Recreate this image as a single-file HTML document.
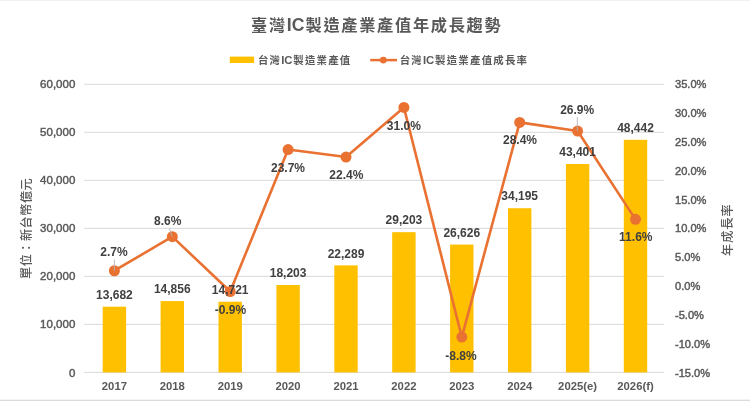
<!DOCTYPE html>
<html lang="zh-Hant">
<head>
<meta charset="utf-8">
<title>臺灣IC製造產業產值年成長趨勢</title>
<style>
html,body{margin:0;padding:0;background:#fff;}
body{width:750px;height:401px;overflow:hidden;}
svg{display:block;filter:blur(0.45px);}
text{font-family:"Liberation Sans","Noto Sans CJK TC",sans-serif;}
.ax{font-size:11.5px;fill:#595959;stroke:#595959;stroke-width:0.45px;}
.ar{font-size:11.1px;}
.xl{font-size:11.3px;fill:#595959;font-weight:bold;}
.dl{font-size:12px;fill:#404040;font-weight:bold;}
.lg{font-size:11.3px;fill:#595959;font-weight:bold;}
.lg .ck{font-size:10.4px;letter-spacing:1.25px;}
.at{font-size:12.1px;letter-spacing:0.55px;fill:#595959;font-weight:500;}
.tt{font-size:17.6px;fill:#595959;font-weight:bold;}
.tt .ck{font-size:16.2px;letter-spacing:1.7px;}
</style>
</head>
<body>
<svg width="750" height="401" viewBox="0 0 750 401">
<rect x="0" y="0" width="750" height="401" fill="#ffffff"/>
<rect x="0" y="0" width="750" height="1" fill="#f0f0f0"/>
<rect x="0" y="399" width="750" height="1" fill="#f4f4f4"/>
<rect x="0" y="400" width="750" height="1" fill="#dcdcdc"/>
<text class="tt" x="251" y="31.4"><tspan class="ck">臺灣</tspan>IC<tspan class="ck" dx="1.2">製造產業產值年成長趨勢</tspan></text>
<rect x="229.8" y="56.6" width="24.3" height="6.4" fill="#FFC000"/>
<text class="lg" x="257.9" y="63.8"><tspan class="ck">台灣</tspan>IC<tspan class="ck" dx="0.8">製造業產值</tspan></text>
<line x1="370.2" y1="60.1" x2="397" y2="60.1" stroke="#E97132" stroke-width="2.5"/>
<circle cx="383.3" cy="60.1" r="3.4" fill="#E97132"/>
<text class="lg" x="399.7" y="63.8"><tspan class="ck">台灣</tspan>IC<tspan class="ck" dx="0.8">製造業產值成長率</tspan></text>
<line x1="84.3" y1="84.30" x2="664.0" y2="84.30" stroke="#d9d9d9" stroke-width="1"/>
<line x1="84.3" y1="132.32" x2="664.0" y2="132.32" stroke="#d9d9d9" stroke-width="1"/>
<line x1="84.3" y1="180.33" x2="664.0" y2="180.33" stroke="#d9d9d9" stroke-width="1"/>
<line x1="84.3" y1="228.35" x2="664.0" y2="228.35" stroke="#d9d9d9" stroke-width="1"/>
<line x1="84.3" y1="276.37" x2="664.0" y2="276.37" stroke="#d9d9d9" stroke-width="1"/>
<line x1="84.3" y1="324.38" x2="664.0" y2="324.38" stroke="#d9d9d9" stroke-width="1"/>
<line x1="84.3" y1="372.40" x2="664.0" y2="372.40" stroke="#d9d9d9" stroke-width="1"/>
<text class="ax" x="75.3" y="376.50" text-anchor="end">0</text>
<text class="ax" x="75.3" y="328.48" text-anchor="end">10,000</text>
<text class="ax" x="75.3" y="280.47" text-anchor="end">20,000</text>
<text class="ax" x="75.3" y="232.45" text-anchor="end">30,000</text>
<text class="ax" x="75.3" y="184.43" text-anchor="end">40,000</text>
<text class="ax" x="75.3" y="136.42" text-anchor="end">50,000</text>
<text class="ax" x="75.3" y="88.40" text-anchor="end">60,000</text>
<text class="ax ar" x="675" y="376.50">-15.0%</text>
<text class="ax ar" x="675" y="347.69">-10.0%</text>
<text class="ax ar" x="675" y="318.88">-5.0%</text>
<text class="ax ar" x="675" y="290.07">0.0%</text>
<text class="ax ar" x="675" y="261.26">5.0%</text>
<text class="ax ar" x="675" y="232.45">10.0%</text>
<text class="ax ar" x="675" y="203.64">15.0%</text>
<text class="ax ar" x="675" y="174.83">20.0%</text>
<text class="ax ar" x="675" y="146.02">25.0%</text>
<text class="ax ar" x="675" y="117.21">30.0%</text>
<text class="ax ar" x="675" y="88.40">35.0%</text>
<text class="at" transform="translate(31.1,228.4) rotate(-90)" text-anchor="middle">單位：新台幣億元</text>
<text class="at" style="letter-spacing:1.05px" transform="translate(731.9,229.6) rotate(-90)" text-anchor="middle">年成長率</text>
<rect x="102.70" y="306.70" width="23.4" height="65.70" fill="#FFC000"/>
<rect x="160.60" y="301.07" width="23.4" height="71.33" fill="#FFC000"/>
<rect x="218.50" y="301.71" width="23.4" height="70.69" fill="#FFC000"/>
<rect x="276.40" y="285.00" width="23.4" height="87.40" fill="#FFC000"/>
<rect x="334.30" y="265.38" width="23.4" height="107.02" fill="#FFC000"/>
<rect x="392.20" y="232.18" width="23.4" height="140.22" fill="#FFC000"/>
<rect x="450.10" y="244.55" width="23.4" height="127.85" fill="#FFC000"/>
<rect x="508.00" y="208.21" width="23.4" height="164.19" fill="#FFC000"/>
<rect x="565.90" y="164.00" width="23.4" height="208.40" fill="#FFC000"/>
<rect x="623.80" y="139.80" width="23.4" height="232.60" fill="#FFC000"/>
<text class="xl" x="114.40" y="390.1" text-anchor="middle">2017</text>
<text class="xl" x="172.30" y="390.1" text-anchor="middle">2018</text>
<text class="xl" x="230.20" y="390.1" text-anchor="middle">2019</text>
<text class="xl" x="288.10" y="390.1" text-anchor="middle">2020</text>
<text class="xl" x="346.00" y="390.1" text-anchor="middle">2021</text>
<text class="xl" x="403.90" y="390.1" text-anchor="middle">2022</text>
<text class="xl" x="461.80" y="390.1" text-anchor="middle">2023</text>
<text class="xl" x="519.70" y="390.1" text-anchor="middle">2024</text>
<text class="xl" x="577.60" y="390.1" text-anchor="middle">2025(e)</text>
<text class="xl" x="635.50" y="390.1" text-anchor="middle">2026(f)</text>
<polyline points="114.40,270.74 172.30,236.68 230.20,291.51 288.10,149.52 346.00,157.03 403.90,107.39 461.80,337.11 519.70,122.40 577.60,131.05 635.50,219.36" fill="none" stroke="#E97132" stroke-width="2.6" stroke-linejoin="round" stroke-linecap="round"/>
<circle cx="114.40" cy="270.74" r="5.5" fill="#E97132"/>
<circle cx="172.30" cy="236.68" r="5.5" fill="#E97132"/>
<circle cx="230.20" cy="291.51" r="5.5" fill="#E97132"/>
<circle cx="288.10" cy="149.52" r="5.5" fill="#E97132"/>
<circle cx="346.00" cy="157.03" r="5.5" fill="#E97132"/>
<circle cx="403.90" cy="107.39" r="5.5" fill="#E97132"/>
<circle cx="461.80" cy="337.11" r="5.5" fill="#E97132"/>
<circle cx="519.70" cy="122.40" r="5.5" fill="#E97132"/>
<circle cx="577.60" cy="131.05" r="5.5" fill="#E97132"/>
<circle cx="635.50" cy="219.36" r="5.5" fill="#E97132"/>
<line x1="114.40" y1="259.6" x2="114.40" y2="270.74" stroke="#b3b3b3" stroke-width="0.9"/>
<line x1="169.3" y1="228.2" x2="172.30" y2="236.68" stroke="#b3b3b3" stroke-width="0.9"/>
<line x1="577.30" y1="117.2" x2="577.30" y2="131.05" stroke="#b3b3b3" stroke-width="0.9"/>
<text class="dl" x="114.40" y="298.90" text-anchor="middle">13,682</text>
<text class="dl" x="172.30" y="293.27" text-anchor="middle">14,856</text>
<text class="dl" x="230.20" y="293.91" text-anchor="middle">14,721</text>
<text class="dl" x="288.10" y="277.20" text-anchor="middle">18,203</text>
<text class="dl" x="346.00" y="257.58" text-anchor="middle">22,289</text>
<text class="dl" x="403.90" y="224.38" text-anchor="middle">29,203</text>
<text class="dl" x="461.80" y="236.75" text-anchor="middle">26,626</text>
<text class="dl" x="519.70" y="200.41" text-anchor="middle">34,195</text>
<text class="dl" x="577.60" y="156.20" text-anchor="middle">43,401</text>
<text class="dl" x="635.50" y="132.00" text-anchor="middle">48,442</text>
<text class="dl" x="113.9" y="255.90" text-anchor="middle">2.7%</text>
<text class="dl" x="167.8" y="224.50" text-anchor="middle">8.6%</text>
<text class="dl" x="230.5" y="313.90" text-anchor="middle">-0.9%</text>
<text class="dl" x="288" y="172.10" text-anchor="middle">23.7%</text>
<text class="dl" x="346.3" y="179.30" text-anchor="middle">22.4%</text>
<text class="dl" x="403.8" y="129.70" text-anchor="middle">31.0%</text>
<text class="dl" x="460.9" y="360.20" text-anchor="middle">-8.8%</text>
<text class="dl" x="520" y="143.90" text-anchor="middle">28.4%</text>
<text class="dl" x="577.2" y="113.60" text-anchor="middle">26.9%</text>
<text class="dl" x="635.8" y="241.00" text-anchor="middle">11.6%</text>
</svg>
</body>
</html>
